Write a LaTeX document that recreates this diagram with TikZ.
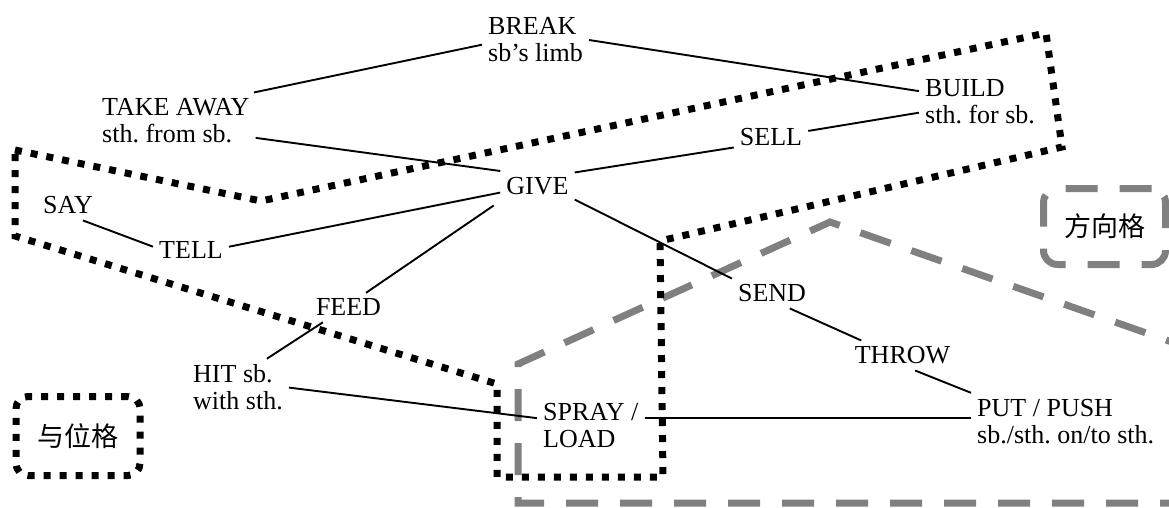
\documentclass[tikz,border=0pt]{standalone}
\usepackage{fontspec}
\setmainfont{Liberation Serif}
\newfontfamily\cjk{Noto Sans CJK SC}
\frenchspacing
\begin{document}
\begin{tikzpicture}[x=1pt,y=-1pt,
  verb/.style={font=\fontsize{26}{27}\selectfont, inner sep=6pt, align=left},
  link/.style={line width=1.9pt, black},
  dotline/.style={line width=7pt, draw=black, dash pattern=on 7pt off 9pt},
  dashline/.style={line width=7pt, draw=dashgray, dash pattern=on 32pt off 22pt},
  legend/.style={font=\cjk\fontsize{27}{30}\selectfont, inner sep=0pt, text=black}]
\definecolor{dashgray}{RGB}{128,128,128}
\useasboundingbox (0,0) rectangle (1169,507);

% verbs
\node[verb, anchor=west] (break) at (482,40)    {BREAK\\sb’s limb};
\node[verb, anchor=west] (take)  at (96,120.9)  {TAKE AWAY\\sth. from sb.};
\node[verb, anchor=west] (build) at (919,101.9) {BUILD\\sth. for sb.};
\node[verb] (sell)  at (771,137.5) {SELL};
\node[verb] (give)  at (537.5,186) {GIVE};
\node[verb] (say)   at (68,205.5)  {SAY};
\node[verb] (tell)  at (191,250)   {TELL};
\node[verb] (feed)  at (348.5,307.5) {FEED};
\node[verb] (send)  at (772,293.5) {SEND};
\node[verb] (throw) at (902.5,355.5) {THROW};
\node[verb, anchor=west] (hit)   at (187,387.6) {HIT sb.\\with sth.};
\node[verb, anchor=west] (spray) at (537,425.7) {SPRAY /\\LOAD};
\node[verb, anchor=west] (put)   at (971,421.3) {PUT / PUSH\\sb./sth. on/to sth.};

% directional region (dashed, runs off the right edge)
\begin{scope}
  \clip (0,0) rectangle (1169,507);
  \draw[dashline] (1300,503) -- (518,503) -- (518,364) -- (830,222) -- (1300,387);
\end{scope}

% links between verbs
\draw[link] (break.185) -- (take.20);
\draw[link] (break.east) -- (build.170);
\draw[link] (take.-12) -- (give.north west);
\draw[link] (give.20) -- (sell.195);
\draw[link] (sell.10) -- (build.190);
\draw[link] (give.190) -- (tell.5);
\draw[link] (say.-45) -- (tell.175);
\draw[link, shorten <=8pt] (give.south west) -- (feed.40);
\draw[link] (give.-20) -- (send.north west);
\draw[link] (send.-40) -- (throw.160);
\draw[link] (throw.-50) -- (put.north west);
\draw[link] (feed.210) -- (hit.45);
\draw[link] (hit.east) -- (spray.172);
\draw[link] (spray.8) -- (spray.8 -| put.west);

% dative region (dotted)
\draw[dotline] (15,150) -- (261,201) -- (1046,33) -- (1062,147) -- (660,241)
  -- (663,477) -- (497,477) -- (497,384) -- (15,236) -- cycle;

% legend
\node[legend, dotline, rounded corners=12pt, minimum width=124pt, minimum height=79pt]
  (dative) at (78,436) {与位格};
\node[legend, dashline, rounded corners=14pt, minimum width=122pt, minimum height=76pt]
  (direction) at (1104.5,226.5) {方向格};
\end{tikzpicture}
\end{document}
